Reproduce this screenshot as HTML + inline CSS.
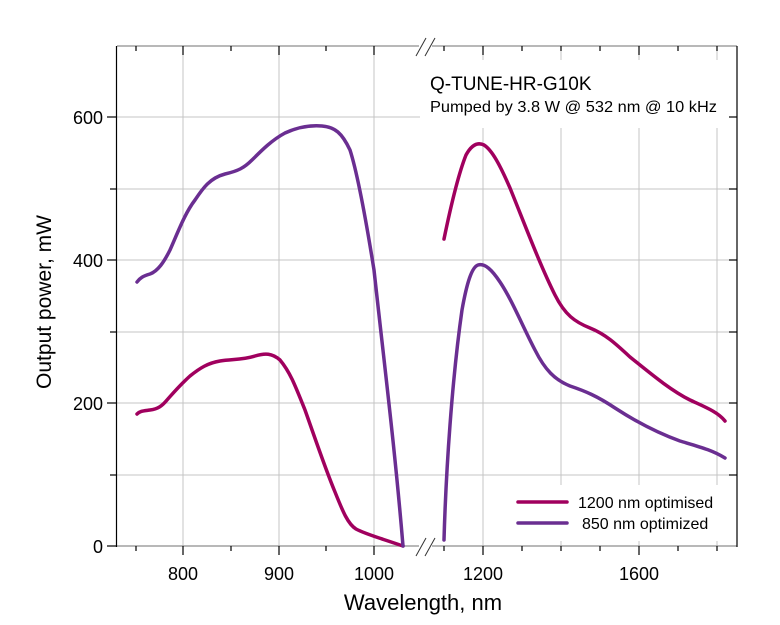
<!DOCTYPE html>
<html><head><meta charset="utf-8"><style>
html,body{margin:0;padding:0;background:#fff;}
svg{display:block;font-family:"Liberation Sans",Arial,sans-serif;}
</style></head><body>
<svg width="780" height="625" viewBox="0 0 780 625" xmlns="http://www.w3.org/2000/svg">
<g stroke="#c4c4c4" stroke-width="1">
<line x1="117" y1="117" x2="737" y2="117"/><line x1="117" y1="189" x2="737" y2="189"/>
<line x1="117" y1="260" x2="737" y2="260"/><line x1="117" y1="332" x2="737" y2="332"/>
<line x1="117" y1="403" x2="737" y2="403"/><line x1="117" y1="475" x2="737" y2="475"/>
<line x1="183" y1="46" x2="183" y2="546"/><line x1="279" y1="46" x2="279" y2="546"/>
<line x1="374" y1="46" x2="374" y2="546"/><line x1="483" y1="46" x2="483" y2="546"/>
<line x1="561" y1="46" x2="561" y2="546"/><line x1="639" y1="46" x2="639" y2="546"/>
<line x1="717" y1="46" x2="717" y2="546"/>
</g>
<rect x="420" y="60" width="316" height="68" fill="#fff"/>
<rect x="500" y="485" width="236" height="56" fill="#fff"/>
<g stroke="#a0a0a0" stroke-width="1.5">
<line x1="117" y1="46" x2="419" y2="46"/><line x1="432" y1="46" x2="737" y2="46"/>
<line x1="117" y1="546" x2="419" y2="546"/><line x1="432" y1="546" x2="737" y2="546"/>
</g>
<g stroke="#000" stroke-width="1.2">
<line x1="116.5" y1="46" x2="116.5" y2="547"/><line x1="737" y1="46" x2="737" y2="547"/>
<line x1="107" y1="117" x2="116" y2="117"/><line x1="110" y1="189" x2="116" y2="189"/>
<line x1="107" y1="260" x2="116" y2="260"/><line x1="110" y1="332" x2="116" y2="332"/>
<line x1="107" y1="403" x2="116" y2="403"/><line x1="110" y1="475" x2="116" y2="475"/>
<line x1="107" y1="546" x2="116" y2="546"/>
<line x1="729" y1="117" x2="737" y2="117"/><line x1="729" y1="189" x2="737" y2="189"/>
<line x1="729" y1="260" x2="737" y2="260"/><line x1="729" y1="332" x2="737" y2="332"/>
<line x1="729" y1="403" x2="737" y2="403"/><line x1="729" y1="475" x2="737" y2="475"/>
<line x1="136" y1="546" x2="136" y2="551"/><line x1="183" y1="546" x2="183" y2="555"/>
<line x1="231" y1="546" x2="231" y2="551"/><line x1="279" y1="546" x2="279" y2="555"/>
<line x1="326" y1="546" x2="326" y2="551"/><line x1="374" y1="546" x2="374" y2="555"/>
<line x1="444" y1="546" x2="444" y2="551"/><line x1="483" y1="546" x2="483" y2="555"/>
<line x1="522" y1="546" x2="522" y2="551"/><line x1="561" y1="546" x2="561" y2="551"/>
<line x1="600" y1="546" x2="600" y2="551"/><line x1="639" y1="546" x2="639" y2="555"/>
<line x1="678" y1="546" x2="678" y2="551"/><line x1="717" y1="546" x2="717" y2="551"/>
<line x1="136" y1="46" x2="136" y2="51"/><line x1="183" y1="46" x2="183" y2="55"/>
<line x1="231" y1="46" x2="231" y2="51"/><line x1="279" y1="46" x2="279" y2="55"/>
<line x1="326" y1="46" x2="326" y2="51"/><line x1="374" y1="46" x2="374" y2="55"/>
<line x1="444" y1="46" x2="444" y2="51"/><line x1="483" y1="46" x2="483" y2="55"/>
<line x1="522" y1="46" x2="522" y2="51"/><line x1="561" y1="46" x2="561" y2="51"/>
<line x1="600" y1="46" x2="600" y2="51"/><line x1="639" y1="46" x2="639" y2="55"/>
<line x1="678" y1="46" x2="678" y2="51"/><line x1="717" y1="46" x2="717" y2="51"/>
</g>
<g stroke="#333" stroke-width="1">
<line x1="416" y1="56" x2="426" y2="38"/><line x1="425" y1="56" x2="435" y2="38"/>
<line x1="416" y1="556" x2="426" y2="538"/><line x1="425" y1="556" x2="435" y2="538"/>
</g>
<g fill="none" stroke-width="3.5" stroke-linejoin="round" stroke-linecap="round">
<path stroke="#a0005e" d="M137,414 C140,411 143,411 150,410 C158,409 162,406 167,400 C175,391 180,385 190,376 C200,368 208,363 220,361 C232,359 242,360 255,356 C265,353 272,353 280,360 C290,372 295,385 305,410 C315,438 325,468 335,492 C343,512 348,524 356,529 C365,534 380,538 403,546"/>
<path stroke="#6a2e91" d="M137,282 C140,278 143,276 150,274 C158,271 164,262 170,250 C178,232 185,213 195,200 C203,188 210,178 225,174 C238,171 244,168 252,160 C262,150 272,140 285,133 C298,127 310,125 322,126 C335,127 342,133 350,150 C358,175 366,220 374,270 C385,370 395,450 403,546"/>
<path stroke="#a0005e" d="M444,239 C450,210 458,175 466,155 C472,144 478,142 484,145 C492,150 500,165 510,188 C525,225 540,265 555,295 C565,315 575,322 590,328 C605,334 615,343 630,357 C650,373 670,390 690,400 C705,407 718,412 725,421"/>
<path stroke="#6a2e91" d="M444,540 C446,470 452,380 462,310 C467,282 472,267 478,265 C485,263 492,270 500,282 C512,300 522,325 535,350 C545,370 555,380 570,386 C585,391 597,396 615,408 C635,421 655,432 680,441 C700,447 712,450 725,458"/>
<line x1="518" y1="502" x2="567" y2="502" stroke="#a0005e"/>
<line x1="518" y1="523" x2="567" y2="523" stroke="#6a2e91"/>
</g>
<g font-size="18" fill="#000" text-anchor="end">
<text x="103" y="124">600</text><text x="103" y="267">400</text>
<text x="103" y="410">200</text><text x="103" y="553">0</text>
</g>
<g font-size="18" fill="#000" text-anchor="middle">
<text x="183" y="580">800</text><text x="279" y="580">900</text>
<text x="374" y="580">1000</text><text x="483" y="580">1200</text>
<text x="639" y="580">1600</text>
</g>
<text x="423" y="610" font-size="22" text-anchor="middle">Wavelength, nm</text>
<text transform="translate(51,302) rotate(-90)" font-size="21" text-anchor="middle">Output power, mW</text>
<text x="430" y="90" font-size="19">Q-TUNE-HR-G10K</text>
<text x="430" y="112" font-size="16" textLength="287" lengthAdjust="spacingAndGlyphs">Pumped by 3.8 W  @ 532 nm @ 10 kHz</text>
<text x="578" y="508" font-size="16">1200 nm optimised</text>
<text x="582" y="529" font-size="16">850 nm optimized</text>
</svg>
</body></html>
